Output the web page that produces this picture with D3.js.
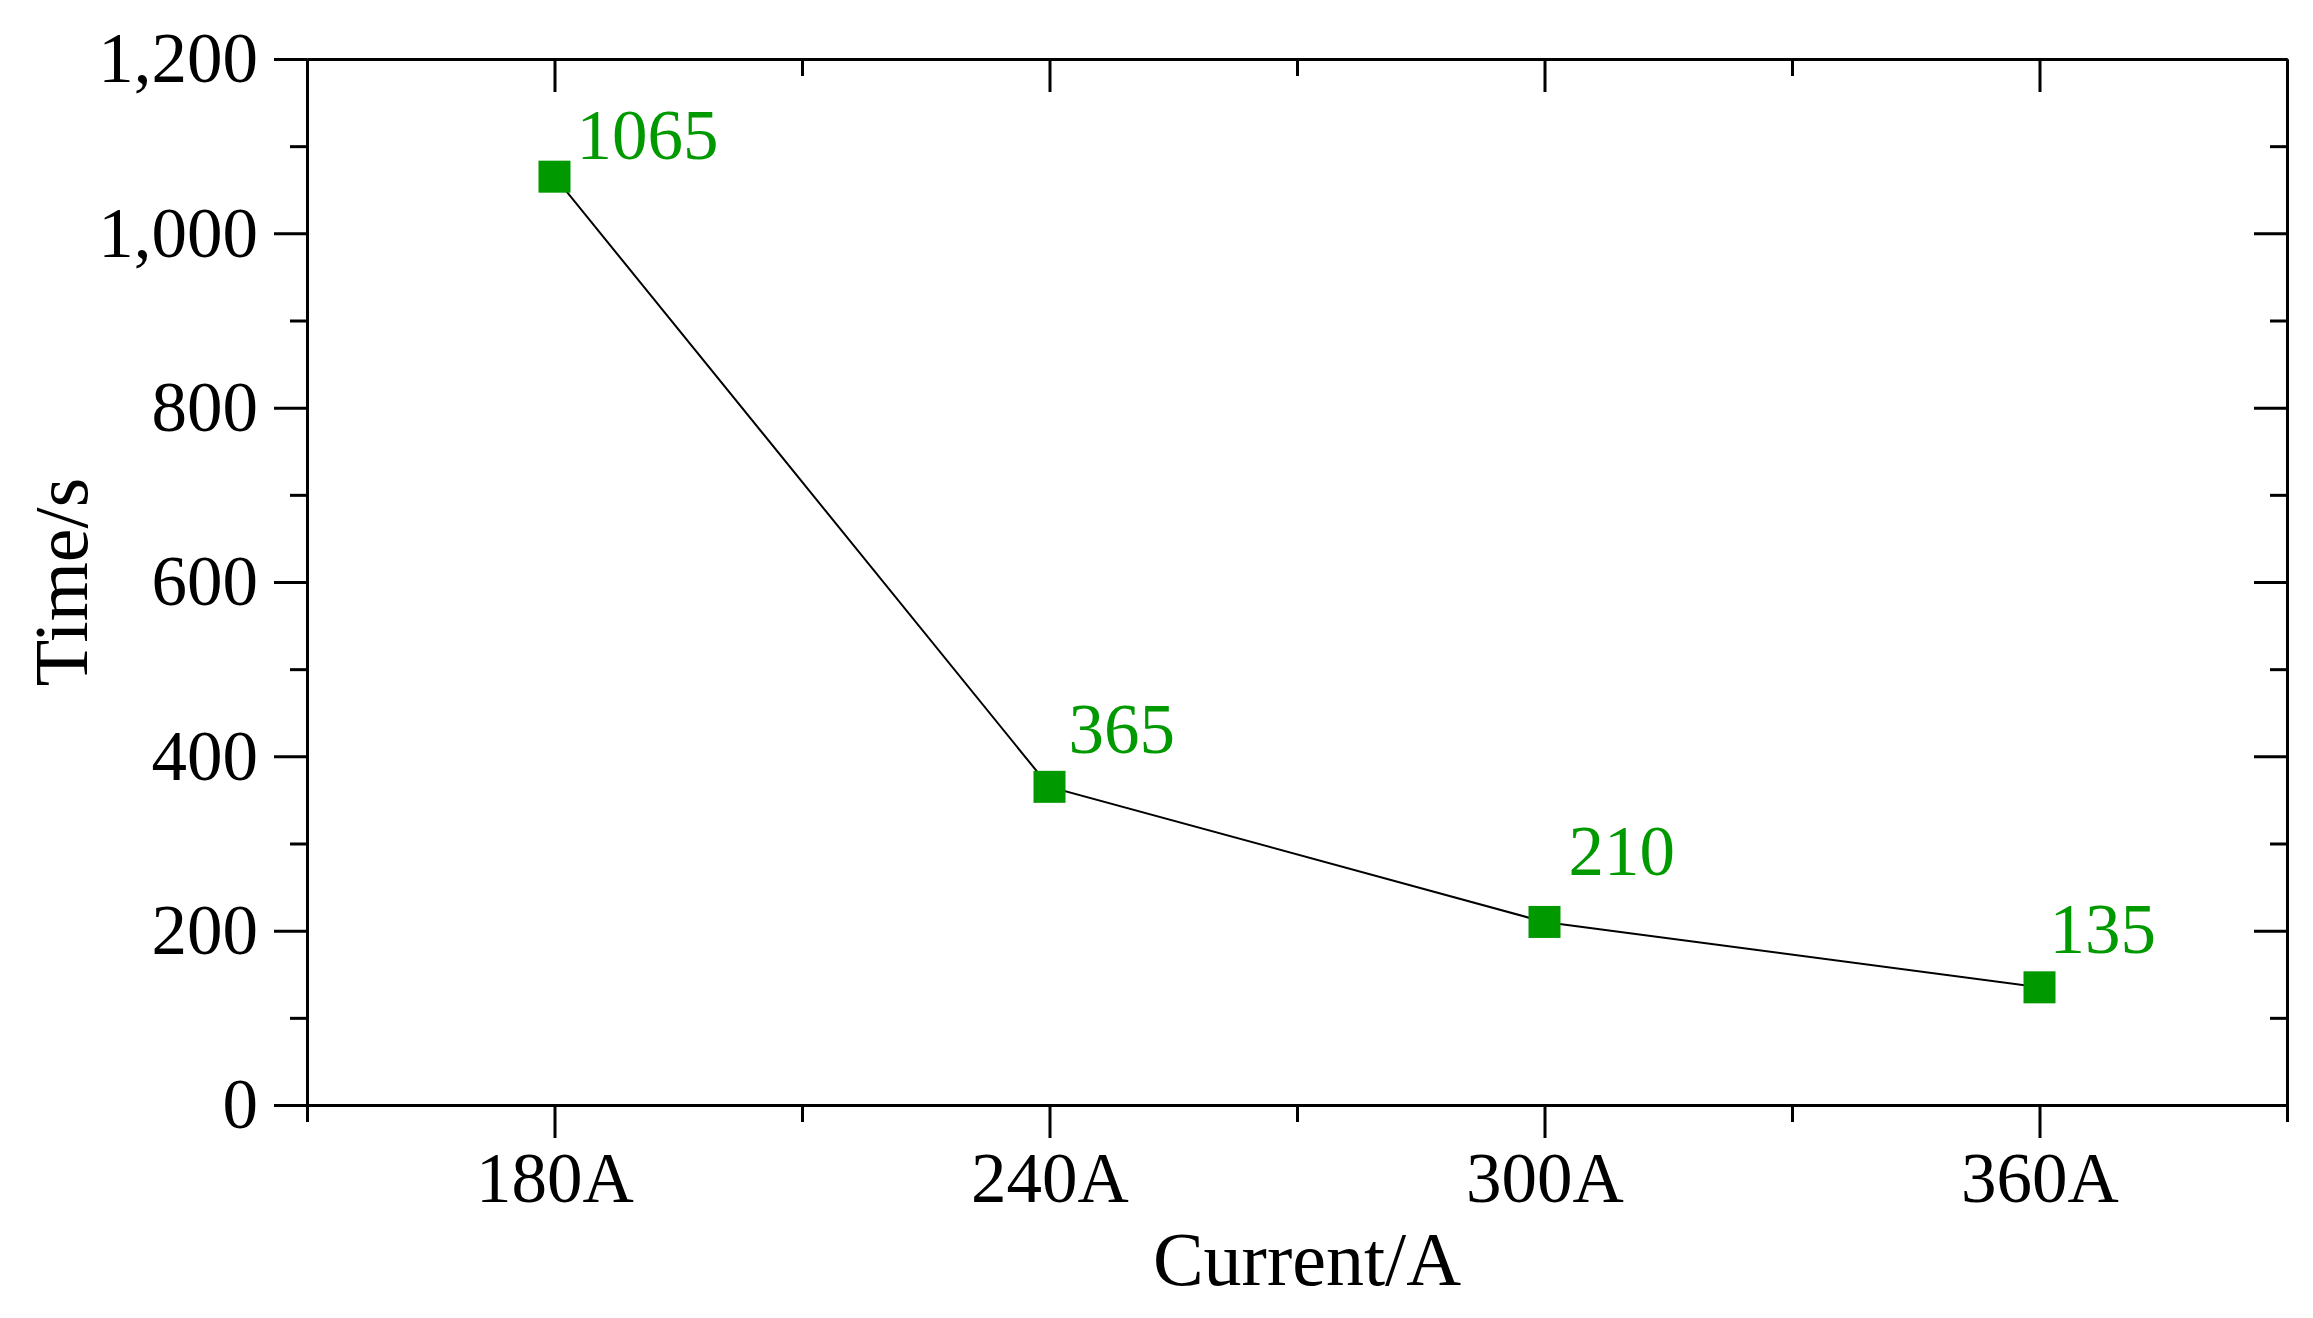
<!DOCTYPE html>
<html>
<head>
<meta charset="utf-8">
<script src="https://cdn.jsdelivr.net/npm/d3@7"></script>
<style>
  body { margin: 0; background: #fff; }
  text { font-family: "Liberation Serif", "Times New Roman", serif; }
</style>
</head>
<body>
<div id="chart"></div>
<script>
// data
const currents = [180, 240, 300, 360];
const times = [1065, 365, 210, 135];
const yTicks = [0, 200, 400, 600, 800, 1000, 1200];
// label nudges (px) for each value label
const labelDx = [22, 19, 24, 10];
const labelDy = [-18, -34, -47, -34];

const W = 2313, H = 1318;
const margin = {top: 59, right: 26, bottom: 213, left: 307};
const width = W - margin.left - margin.right,
      height = H - margin.top - margin.bottom;

const svg = d3.select("#chart").append("svg")
    .attr("width", W).attr("height", H)
  .append("g")
    .attr("transform", `translate(${margin.left}, ${margin.top})`);

const x = d3.scaleLinear().domain([150, 390]).range([0, width]);
const y = d3.scaleLinear().domain([0, 1200]).range([height, 0]);

const minorX = [210, 270, 330];
const minorY = [100, 300, 500, 700, 900, 1100];

function styleAxis(g) {
  g.select(".domain").attr("stroke", "#000").attr("stroke-width", 3);
  g.selectAll(".tick line").attr("stroke", "#000").attr("stroke-width", 3);
  g.selectAll("text").attr("font-size", 71).attr("fill", "#000");
}

// bottom axis
svg.append("g").attr("transform", `translate(0, ${height})`)
  .call(d3.axisBottom(x).tickValues(currents).tickFormat(d => d + "A").tickSize(33).tickPadding(14).tickSizeOuter(0))
  .call(styleAxis);
svg.append("g").attr("transform", `translate(0, ${height})`)
  .call(d3.axisBottom(x).tickValues(minorX.concat([150, 390])).tickFormat("").tickSize(17).tickSizeOuter(0))
  .call(styleAxis);
// top axis (inward)
svg.append("g")
  .call(d3.axisBottom(x).tickValues(currents).tickFormat("").tickSize(33).tickSizeOuter(0))
  .call(styleAxis);
svg.append("g")
  .call(d3.axisBottom(x).tickValues(minorX).tickFormat("").tickSize(17).tickSizeOuter(0))
  .call(styleAxis);
// left axis
svg.append("g")
  .call(d3.axisLeft(y).tickValues(yTicks).tickSize(33).tickPadding(16).tickSizeOuter(0))
  .call(styleAxis);
svg.append("g")
  .call(d3.axisLeft(y).tickValues(minorY).tickFormat("").tickSize(17).tickSizeOuter(0))
  .call(styleAxis);
// right axis (inward)
svg.append("g").attr("transform", `translate(${width}, 0)`)
  .call(d3.axisLeft(y).tickValues(yTicks).tickFormat("").tickSize(33).tickSizeOuter(0))
  .call(styleAxis);
svg.append("g").attr("transform", `translate(${width}, 0)`)
  .call(d3.axisLeft(y).tickValues(minorY).tickFormat("").tickSize(17).tickSizeOuter(0))
  .call(styleAxis);

const data = currents.map((c, i) => ({c, t: times[i], dx: labelDx[i], dy: labelDy[i]}));

// line
svg.append("path").datum(data)
  .attr("fill", "none").attr("stroke", "#000").attr("stroke-width", 2)
  .attr("d", d3.line().x(d => x(d.c)).y(d => y(d.t)));

// markers
const s = 32;
svg.selectAll("mysquare").data(data).enter().append("rect")
  .attr("x", d => x(d.c) - s / 2).attr("y", d => y(d.t) - s / 2)
  .attr("width", s).attr("height", s).attr("fill", "#009900");

// value labels
svg.selectAll("mylabel").data(data).enter().append("text")
  .attr("x", d => x(d.c) + d.dx).attr("y", d => y(d.t) + d.dy)
  .attr("font-size", 71).attr("fill", "#009900")
  .text(d => d.t);

// axis titles
svg.append("text").attr("x", width / 2 + 10).attr("y", height + 180)
  .attr("text-anchor", "middle").attr("font-size", 76).text("Current/A");
svg.append("text")
  .attr("transform", `translate(${-220}, ${height / 2}) rotate(-90)`)
  .attr("text-anchor", "middle").attr("font-size", 76).text("Time/s");
</script>
</body>
</html>
